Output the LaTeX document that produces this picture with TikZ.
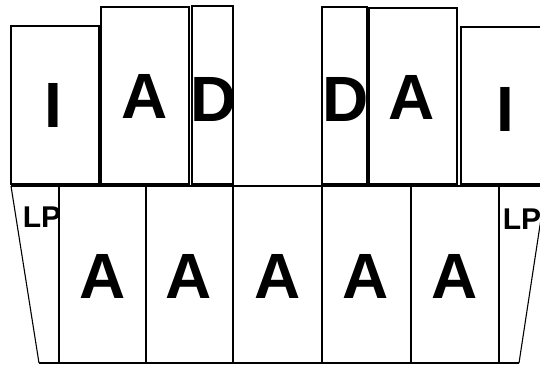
\documentclass[tikz,border=0pt]{standalone}
\usepackage{fontspec}
\setmainfont{Liberation Sans}
\begin{document}
\begin{tikzpicture}[x=1pt,y=-1pt,
  topbox/.style={draw=black,line width=1.6pt,inner sep=0pt},
  big/.style={font=\bfseries\fontsize{64}{64}\selectfont,inner sep=0pt,anchor=center},
  small/.style={font=\bfseries\fontsize{30}{30}\selectfont,inner sep=0pt,anchor=center},
  thin/.style={line width=1.1pt},
  thick/.style={line width=1.6pt}]
\useasboundingbox (0,0) rectangle (540,365);
\clip (0,0) rectangle (540,365);
% top boxes
\draw[topbox] (11,26) rectangle (99,184);
\draw[topbox] (101,7) rectangle (189,184);
\draw[topbox] (192,6) rectangle (233,184);
\draw[topbox] (322,7) rectangle (367,184);
\draw[topbox] (369,8) rectangle (457,184);
\draw[topbox] (461,27) rectangle (549,184);
\node[big] (ti1) at (53,105) {I};
\node[big] (ta1) at (145,96) {A};
\node[big] (td1) at (214,99) {D};
\node[big] (td2) at (346,99) {D};
\node[big] (ta2) at (412,97) {A};
\node[big] (ti2) at (505,109) {I};
% bottom section
\coordinate (tl) at (11,186);
\coordinate (tr) at (546,186);
\coordinate (bl) at (39,363);
\coordinate (br) at (519,363);
\draw[thick] (tl) -- (tr);
\draw[thick] (bl) -- (br);
\draw[thin] (tl) -- (bl);
\draw[thin] (tr) -- (br);
\foreach \x/\n in {59/v1,146/v2,233/v3,322/v4,411/v5,499/v6}{
  \coordinate (\n t) at (\x,186);
  \coordinate (\n b) at (\x,363);
  \draw[thin] (\n t) -- (\n b);
}
\node[small] (lp1) at (42,217) {LP};
\node[small] (lp2) at (522,219) {LP};
\node[big] (a1) at (103,276) {A};
\node[big] (a2) at (189,276) {A};
\node[big] (a3) at (278,276) {A};
\node[big] (a4) at (366,276) {A};
\node[big] (a5) at (455,276) {A};
\end{tikzpicture}
\end{document}
